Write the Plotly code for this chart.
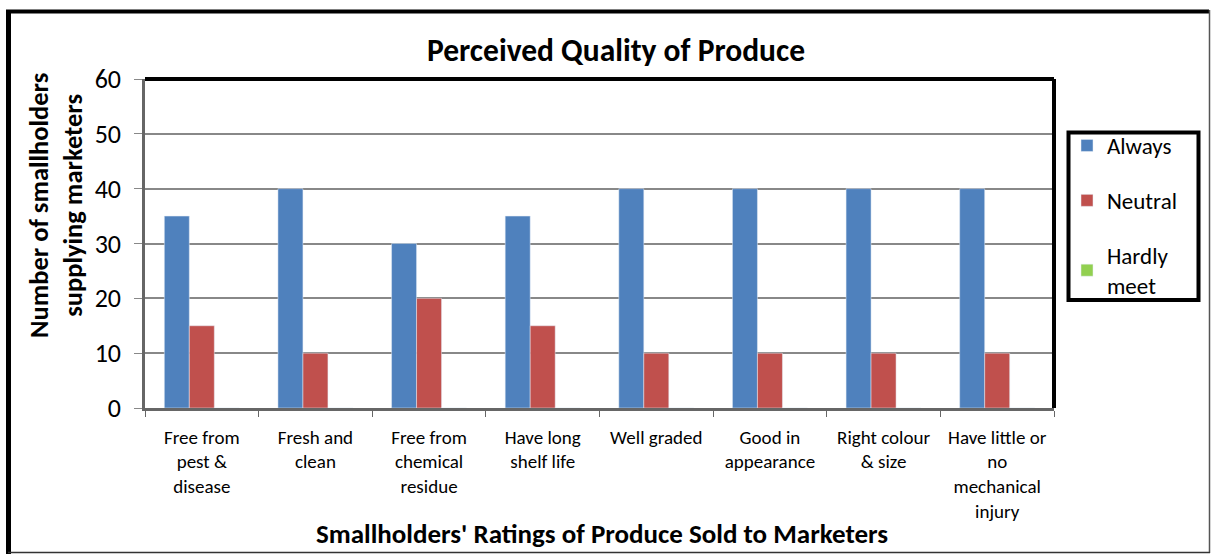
import plotly.graph_objects as go

categories = [
    "Free from<br>pest &<br>disease",
    "Fresh and<br>clean",
    "Free from<br>chemical<br>residue",
    "Have long<br>shelf life",
    "Well graded",
    "Good in<br>appearance",
    "Right colour<br>& size",
    "Have little or<br>no<br>mechanical<br>injury",
]
always = [35, 40, 30, 35, 40, 40, 40, 40]
neutral = [15, 10, 20, 15, 10, 10, 10, 10]
hardly_meet = [0, 0, 0, 0, 0, 0, 0, 0]

W, H = 1212, 554
L, R, T, B = 145, 1054, 79, 408  # plot area in px
FONT = "Carlito, Calibri, Lato, sans-serif"

def px_x(x):
    return (x - L) / (R - L)

def px_y(y):
    return (B - y) / (B - T)

fig = go.Figure()
fig.add_trace(go.Bar(x=categories, y=always, name="Always", marker_color="#4F81BD",
                     legendgroup="a"))
fig.add_trace(go.Bar(x=categories, y=neutral, name="Neutral", marker_color="#C0504D",
                     legendgroup="b"))
fig.add_trace(go.Bar(x=categories, y=hardly_meet, name="Hardly<br>meet", marker_color="#92D050",
                     legendgroup="c"))

shapes = [
    # outer chart border
    dict(type="line", xref="paper", yref="paper", x0=px_x(8.5), x1=px_x(8.5), y0=px_y(10), y1=px_y(560),
         line=dict(color="black", width=5)),
    dict(type="line", xref="paper", yref="paper", x0=px_x(6), x1=px_x(1209), y0=px_y(11.5), y1=px_y(11.5),
         line=dict(color="black", width=4)),
    dict(type="line", xref="paper", yref="paper", x0=px_x(1209.5), x1=px_x(1209.5), y0=px_y(10), y1=px_y(553),
         line=dict(color="#555", width=1.5)),
    dict(type="line", xref="paper", yref="paper", x0=px_x(8), x1=px_x(1210), y0=px_y(552.5), y1=px_y(552.5),
         line=dict(color="#333", width=1.5)),
    # plot area top & right black border
    dict(type="line", xref="paper", yref="paper", x0=0, x1=1, y0=1, y1=1,
         line=dict(color="black", width=4)),
    dict(type="line", xref="paper", yref="paper", x0=1, x1=1, y0=0, y1=1,
         line=dict(color="black", width=4)),
    # legend box
    dict(type="rect", xref="paper", yref="paper", x0=px_x(1068.5), x1=px_x(1198.5),
         y0=px_y(132.5), y1=px_y(300), line=dict(color="black", width=4), layer="above"),
]

annotations = [
    dict(text="<b>Number of smallholders<br>supplying marketers</b>", xref="paper", yref="paper",
         x=px_x(56), y=px_y(206), textangle=-90, showarrow=False,
         font=dict(family=FONT, size=26.5, color="black"), xanchor="center", yanchor="middle"),
    dict(text="<b>Smallholders' Ratings of Produce Sold to Marketers</b>", xref="paper", yref="paper",
         x=px_x(602), y=px_y(533), showarrow=False,
         font=dict(family=FONT, size=27, color="black"), xanchor="center", yanchor="middle"),
]

fig.update_layout(
    width=W, height=H,
    margin=dict(l=L, r=W - R, t=T, b=H - B),
    paper_bgcolor="white", plot_bgcolor="white",
    font=dict(family=FONT, color="black"),
    title=dict(text="<b>Perceived Quality of Produce</b>", x=616 / W, xanchor="center",
               y=1 - 50 / H, yanchor="middle", font=dict(family=FONT, size=31.5, color="black")),
    barmode="group", bargap=0.34, bargroupgap=0,
    showlegend=True,
    legend=dict(x=px_x(1067), y=px_y(124), xanchor="left", yanchor="top",
                borderwidth=0, bgcolor="rgba(0,0,0,0)",
                font=dict(family=FONT, size=23, color="black"),
                tracegroupgap=22, itemwidth=30, traceorder="grouped"),
    shapes=shapes, annotations=annotations,
)
fig.update_xaxes(showline=True, linecolor="#666", linewidth=2.5, ticks="outside",
                 tickson="boundaries", ticklen=6, tickcolor="#666",
                 tickfont=dict(family=FONT, size=19, color="black"), showgrid=False,
                 ticklabelstandoff=10)
fig.update_yaxes(range=[0, 60], dtick=10, showline=True, linecolor="#666", linewidth=2.5,
                 ticks="outside", ticklen=8, tickcolor="#888",
                 tickfont=dict(family=FONT, size=26, color="black"),
                 showgrid=True, gridcolor="#888", gridwidth=1.5, zeroline=False,
                 ticklabelstandoff=8)

fig.write_html("out.html", config={"displayModeBar": False},
               post_script="document.body.style.margin='0';")
